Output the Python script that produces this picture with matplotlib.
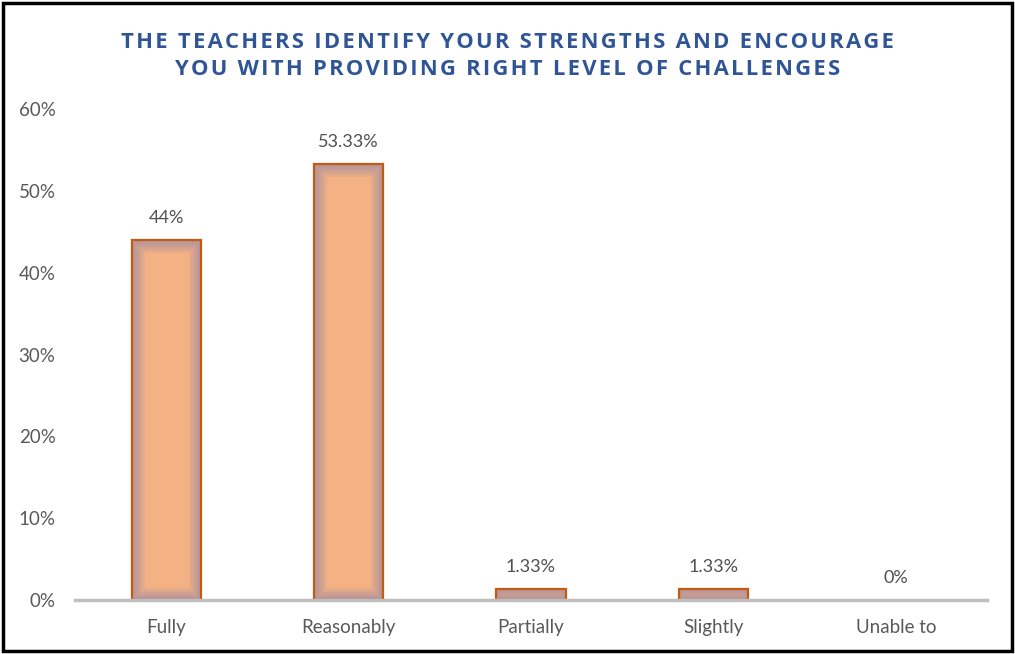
import matplotlib.pyplot as plt
from matplotlib.patches import Rectangle

# --------------- Data ---------------
categories = ['Fully', 'Reasonably', 'Partially', 'Slightly', 'Unable to']
values = [44, 53.33, 1.33, 1.33, 0]
labels = ['44%', '53.33%', '1.33%', '1.33%', '0%']
yticks = [0, 10, 20, 30, 40, 50, 60]

title_lines = ['THE TEACHERS IDENTIFY YOUR STRENGTHS AND ENCOURAGE',
               'YOU WITH PROVIDING RIGHT LEVEL OF CHALLENGES']

plt.rcParams['font.family'] = ['Lato', 'DejaVu Sans']

fig = plt.figure(figsize=(10.15, 6.54), dpi=100)
ax = fig.add_axes([0.0739, 0.0826, 0.8985, 0.7507])

# --------------- Bars ---------------
bars = ax.bar(range(len(categories)), values, width=0.38,
              color='#F4B183', edgecolor='none', zorder=2)

# inner glow: thick translucent strokes clipped to each bar
for b in bars:
    if b.get_height() <= 0:
        continue
    for lw in [3, 6, 9, 12, 15, 18]:
        r = Rectangle(b.get_xy(), b.get_width(), b.get_height(),
                      facecolor='none', edgecolor='#7E80B4', linewidth=lw,
                      alpha=0.11, zorder=3)
        ax.add_patch(r)
        r.set_clip_path(b)
    ax.add_patch(Rectangle(b.get_xy(), b.get_width(), b.get_height(),
                           facecolor='none', edgecolor='#C55A11',
                           linewidth=1.6, zorder=4))

for i, (v, lab) in enumerate(zip(values, labels)):
    ax.annotate(lab, (i, v), xytext=(0, 10), textcoords='offset points',
                ha='center', va='bottom', fontsize=13, color='#505050')

# --------------- Axes ---------------
ax.set_xlim(-0.5, len(categories) - 0.5)
ax.set_ylim(0, 60)
ax.set_yticks(yticks)
ax.set_yticklabels([f'{t}%' for t in yticks])
ax.set_xticks(range(len(categories)))
ax.set_xticklabels(categories)
ax.tick_params(axis='both', length=0, labelsize=13.5, labelcolor='#595959')
ax.tick_params(axis='x', pad=14)
ax.tick_params(axis='y', pad=14)
for s in ['top', 'right', 'left']:
    ax.spines[s].set_visible(False)
ax.spines['bottom'].set_color('#BFBFBF')
ax.spines['bottom'].set_linewidth(2.5)
ax.spines['bottom'].set_zorder(5)

# title with letter spacing (hair spaces between letters)
spaced = ['\u200a'.join(line) for line in title_lines]
fig.text(0.5, 0.914, '\n'.join(spaced), ha='center', va='center', fontsize=15.8,
         fontweight='bold', color='#2F5597', linespacing=1.38,
         family=['Open Sans', 'DejaVu Sans'])

# figure border
fig.add_artist(Rectangle((0.003, 0.004), 0.994, 0.991, transform=fig.transFigure,
                         facecolor='none', edgecolor='black', linewidth=2.5))

fig.savefig('out.png', dpi=100)
